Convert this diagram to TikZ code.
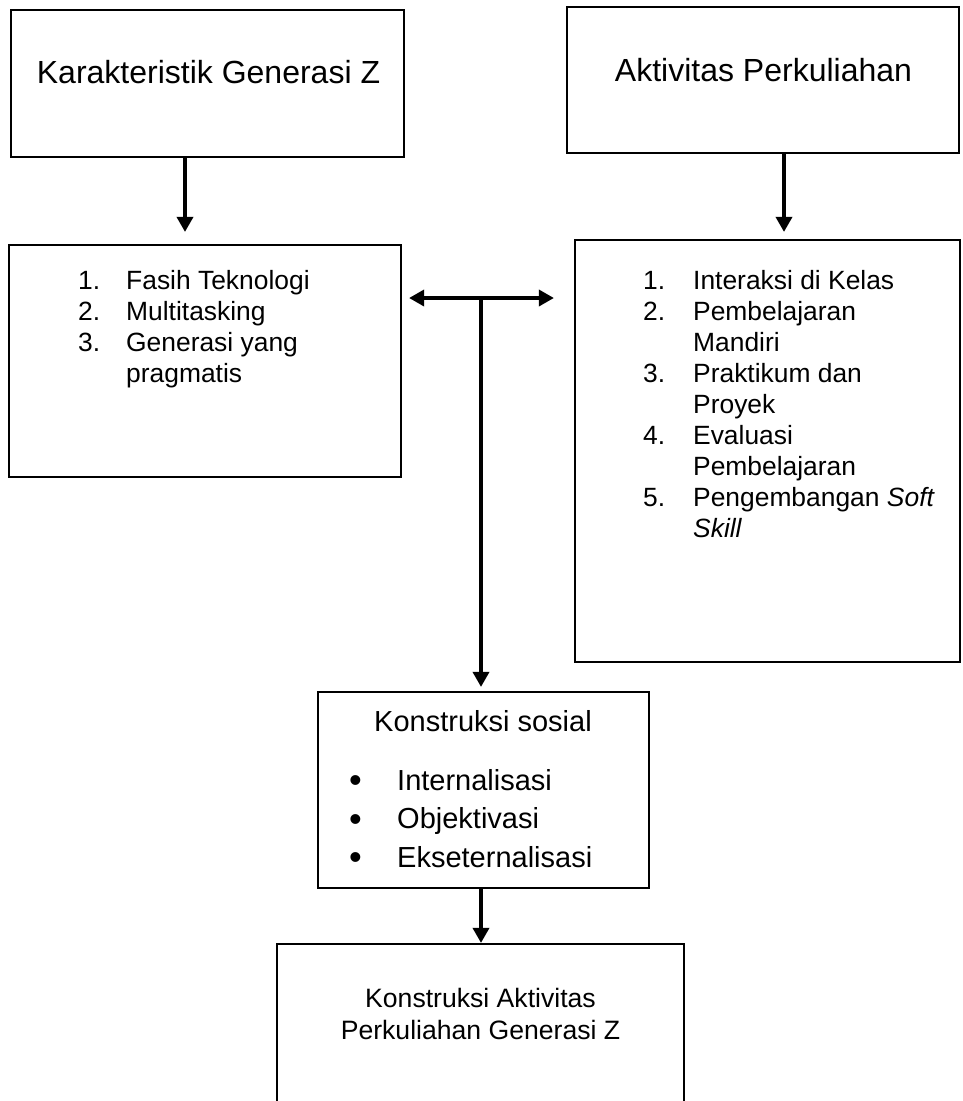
\documentclass[tikz,border=0pt]{standalone}
\usepackage{fontspec}
\setmainfont{Liberation Sans}
\usetikzlibrary{arrows.meta,calc}

\newcommand{\judulfont}{\fontsize{32}{38}\selectfont}
\newcommand{\daftarfont}{\fontsize{26.4}{31}\selectfont}
\newcommand{\sosialfont}{\fontsize{29}{38.5}\selectfont}
\newcommand{\hasilfont}{\fontsize{26.6}{32}\selectfont}
\newcommand{\titik}{\raisebox{-2.5pt}{\scalebox{1.25}{\textbullet}}}

\begin{document}
\begin{tikzpicture}[
    x=1pt, y=-1pt,
    kotak/.style={rectangle, draw, line width=2.2pt, inner sep=0pt},
    teks/.style={inner sep=0pt, anchor=base},
    daftar/.style={inner sep=0pt, anchor=base west, align=left},
    panah/.style={line width=3.5pt, -{Triangle[length=15pt,width=16pt]}},
    panahdua/.style={line width=3.5pt, {Triangle[length=15pt,width=16pt]}-{Triangle[length=15pt,width=16pt]}}
]
\fill[white] (0,0) rectangle (962,1101);
\clip (0,0) rectangle (962,1101);

% kotak atas
\node[kotak, minimum width=393pt, minimum height=147pt] (karakter) at (207.5,83.5) {};
\node[teks, font=\judulfont] (karakterT) at (208.5,83.5) {Karakteristik Generasi Z};
\node[kotak, minimum width=392pt, minimum height=146pt] (aktivitas) at (763,80) {};
\node[teks, font=\judulfont] (aktivitasT) at (763.5,81.5) {Aktivitas Perkuliahan};

% kotak daftar
\node[kotak, minimum width=392pt, minimum height=232pt] (ciri) at (205,361) {};
\node[daftar, font=\daftarfont] (ciriT) at (78,289) {%
  \begin{tabular}[t]{@{}p{48pt}@{}l@{}}
  1. & Fasih Teknologi\\
  2. & Multitasking\\
  3. & Generasi yang\\
     & pragmatis
  \end{tabular}};
\node[kotak, minimum width=385pt, minimum height=422pt] (kegiatan) at (767.5,451) {};
\node[daftar, font=\daftarfont] (kegiatanT) at (643,289) {%
  \begin{tabular}[t]{@{}p{50pt}@{}l@{}}
  1. & Interaksi di Kelas\\
  2. & Pembelajaran\\
     & Mandiri\\
  3. & Praktikum dan\\
     & Proyek\\
  4. & Evaluasi\\
     & Pembelajaran\\
  5. & Pengembangan \textit{Soft}\\
     & \textit{Skill}
  \end{tabular}};

% konstruksi sosial
\node[kotak, minimum width=331pt, minimum height=196pt] (sosial) at (483.5,790) {};
\node[teks, font=\sosialfont] (sosialT) at (483,731) {Konstruksi sosial};
\node[daftar, font=\sosialfont] (sosialL) at (349,790) {%
  \begin{tabular}[t]{@{}p{48pt}@{}l@{}}
  \titik & Internalisasi\\
  \titik & Objektivasi\\
  \titik & Ekseternalisasi
  \end{tabular}};

% hasil
\node[kotak, minimum width=407pt, minimum height=176pt] (hasil) at (480.5,1032) {};
\node[teks, font=\hasilfont] (hasilT) at (480.5,1007) {%
  \begin{tabular}[t]{@{}c@{}}
  Konstruksi Aktivitas\\
  Perkuliahan Generasi Z
  \end{tabular}};

% panah
\coordinate (simpang) at (481,298);
\draw[panah] ($(karakter.south)+(-22.5,0)$) -- ($(ciri.north)+(-20,-12)$);
\draw[panah] ($(aktivitas.south)+(21,0)$) -- ($(kegiatan.north)+(16.5,-7)$);
\draw[panahdua] ($(simpang -| ciri.east)+(7,0)$) -- ($(simpang -| kegiatan.west)+(-20,0)$);
\draw[panah] (simpang) -- ($(simpang |- sosial.north)+(0,-4)$);
\draw[panah] ($(sosial.south)+(-2.5,0)$) -- ($(hasil.north)+(0.5,0)$);
\end{tikzpicture}
\end{document}
